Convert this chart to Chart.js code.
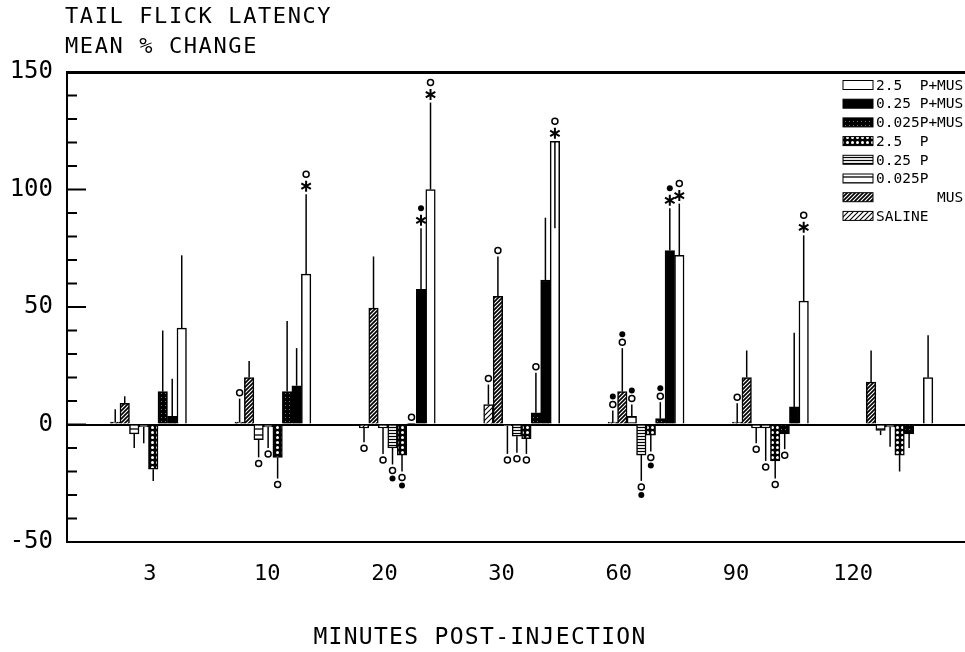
<!DOCTYPE html>
<html>
<head>
<meta charset="utf-8">
<script src="https://cdn.jsdelivr.net/npm/chart.js@4.4.0/dist/chart.umd.min.js"></script>
<style>body{margin:0;background:#fff}</style>
</head>
<body>
<canvas id="tfl" width="965" height="652"></canvas>
<script>
// tail flick latency - mean % change per treatment
var categories = ['3', '10', '20', '30', '60', '90', '120'];
var yLabelStep = 50;

// series, in the order the bars stand inside each group
var saline   = [1, 1, -1.5, 8.5, 1, 1, 0];
var mus      = [9, 20, 49.5, 54.5, 14, 20, 18];
var p0025    = [-4, -6.5, -1.5, -0.5, 3.5, -1.5, -2.5];
var p025     = [-1, -1, -10, -5, -13, -1.5, -1];
var p25      = [-19, -14, -13, -6, -4.5, -15.5, -13];
var p0025mus = [14, 14, 0.5, 5, 2.5, -4, -4];
var p025mus  = [3.5, 16.5, 57.5, 61.5, 74, 7.5, 0];
var p25mus   = [41, 64, 100, 120.5, 72, 52.5, 20];

// error bars (signed length from bar end)
var salineErr   = [5.5, 10, -6, 8.5, 5, 8, 0];
var musErr      = [3, 7, 22, 17, 18.5, 11.5, 13.5];
var p0025Err    = [-6, -7.5, -11, -12, 5, -6.5, -2];
var p025Err     = [-7, -9, -7, -7, -11, -14, -8.5];
var p25Err      = [-5, -9, -7, -6.5, -7, -7.5, -7];
var p0025musErr = [26, 30, 0, 17, 7, -6.5, -6];
var p025musErr  = [16, 16, 26, 26.5, 18, 31.5, 0];
var p25musErr   = [31, 34, 37, -37, 22, 28, 18];

// significance marks: o = open circle, f = filled circle, * = asterisk
var salineSig   = ['', 'o', 'o', 'o', 'of', 'o', ''];
var musSig      = ['', '', '', 'o', 'of', '', ''];
var p0025Sig    = ['', 'o', 'o', 'o', 'of', 'o', ''];
var p025Sig     = ['', 'o', 'of', 'o', 'of', 'o', ''];
var p25Sig      = ['', 'o', 'of', 'o', 'of', 'o', ''];
var p0025musSig = ['', '', 'o', 'o', 'of', 'o', ''];
var p025musSig  = ['', '', '*f', '', '*f', '', ''];
var p25musSig   = ['', '*o', '*o', '*o', '*o', '*o', ''];

var canvas = document.getElementById('tfl');
var ctx = canvas.getContext('2d');

function makePattern(w, h, bg, draw) {
    var c = document.createElement('canvas');
    c.width = w; c.height = h;
    var g = c.getContext('2d');
    g.fillStyle = bg;
    g.fillRect(0, 0, w, h);
    draw(g, w, h);
    return ctx.createPattern(c, 'repeat');
}
function diagonal(s, lw) {
    return makePattern(s, s, '#fff', function (g) {
        g.strokeStyle = '#000';
        g.lineWidth = lw;
        g.beginPath();
        g.moveTo(-1, s + 1); g.lineTo(s + 1, -1);
        g.moveTo(-1, 1); g.lineTo(1, -1);
        g.moveTo(s - 1, s + 1); g.lineTo(s + 1, s - 1);
        g.stroke();
    });
}
function horizontal(h, lw) {
    return makePattern(4, h, '#fff', function (g) {
        g.fillStyle = '#000';
        g.fillRect(0, h / 2 - lw / 2, 4, lw);
    });
}

var fillSaline = diagonal(5, 1.1);
var fillMus = diagonal(4, 1.7);
var fillP0025 = horizontal(6, 1.3);
var fillP025 = horizontal(3, 1.2);
var fillP25 = makePattern(5, 5, '#000', function (g) {
    g.fillStyle = '#fff';
    g.beginPath(); g.arc(2.5, 2.5, 1.5, 0, Math.PI * 2); g.fill();
});
var fillP0025mus = makePattern(4, 4, '#000', function (g) {
    g.fillStyle = '#777';
    g.fillRect(1, 1, 1, 1);
});

function points(arr) {
    return arr.map(function (v, i) { return { x: i, y: v }; });
}

var series = [
    { label: 'SALINE',      data: saline,   err: salineErr,   sig: salineSig,   fill: fillSaline },
    { label: '       MUS',  data: mus,      err: musErr,      sig: musSig,      fill: fillMus },
    { label: '0.025P',      data: p0025,    err: p0025Err,    sig: p0025Sig,    fill: fillP0025 },
    { label: '0.25 P',      data: p025,     err: p025Err,     sig: p025Sig,     fill: fillP025 },
    { label: '2.5  P',      data: p25,      err: p25Err,      sig: p25Sig,      fill: fillP25 },
    { label: '0.025P+MUS',  data: p0025mus, err: p0025musErr, sig: p0025musSig, fill: fillP0025mus },
    { label: '0.25 P+MUS',  data: p025mus,  err: p025musErr,  sig: p025musSig,  fill: '#000' },
    { label: '2.5  P+MUS',  data: p25mus,   err: p25musErr,   sig: p25musSig,   fill: '#fff' }
];

var datasets = series.map(function (s) {
    return {
        label: s.label,
        data: points(s.data),
        errors: s.err,
        marks: s.sig,
        backgroundColor: s.fill,
        borderColor: '#000',
        borderWidth: 1.5,
        barThickness: 9.5
    };
});

var mono = '"DejaVu Sans Mono", monospace';

// error bars + significance marks
var barExtras = {
    id: 'barExtras',
    afterDatasetsDraw: function (chart) {
        var c = chart.ctx, ys = chart.scales.y;
        c.save();
        c.strokeStyle = '#000';
        c.fillStyle = '#000';
        chart.data.datasets.forEach(function (ds, di) {
            chart.getDatasetMeta(di).data.forEach(function (bar, i) {
                var v = ds.data[i].y, e = ds.errors[i];
                var x = bar.x;
                var y0 = ys.getPixelForValue(v), y1 = ys.getPixelForValue(v + e);
                if (e) {
                    c.lineWidth = 1.5;
                    c.beginPath(); c.moveTo(x, y0); c.lineTo(x, y1); c.stroke();
                }
                var marks = ds.marks[i];
                if (!marks) return;
                var up = v >= 0;
                var pos = up ? Math.min(y0, y1) : Math.max(y0, y1);
                var dir = up ? -1 : 1;
                var prev = null;
                marks.split('').forEach(function (m) {
                    var step = prev === null ? (m === '*' ? 8 : 6) : ((m === '*' || prev === '*') ? 12 : 8);
                    pos += dir * step;
                    if (m === '*') {
                        c.lineWidth = 2;
                        c.beginPath();
                        for (var k = 0; k < 3; k++) {
                            var a = Math.PI / 2 + k * Math.PI / 3;
                            c.moveTo(x + Math.cos(a) * 5.5, pos + Math.sin(a) * 5.5);
                            c.lineTo(x - Math.cos(a) * 5.5, pos - Math.sin(a) * 5.5);
                        }
                        c.stroke();
                    } else {
                        c.lineWidth = 1.5;
                        c.beginPath();
                        c.arc(x, pos, 3, 0, Math.PI * 2);
                        if (m === 'f') c.fill(); else c.stroke();
                    }
                    prev = m;
                });
            });
        });
        c.restore();
    }
};

// inner tick marks, titles and the boxed legend
var decor = {
    id: 'decor',
    afterDraw: function (chart) {
        var c = chart.ctx, ys = chart.scales.y, area = chart.chartArea;
        c.save();
        c.strokeStyle = '#000';
        c.lineWidth = 2;
        ys.ticks.forEach(function (t) {
            var py = ys.getPixelForValue(t.value);
            var len = t.value % yLabelStep === 0 ? 19 : 10;
            c.beginPath(); c.moveTo(area.left, py); c.lineTo(area.left + len, py); c.stroke();
        });

        c.fillStyle = '#000';
        c.textAlign = 'left';
        c.textBaseline = 'alphabetic';
        c.font = '22px ' + mono;
        c.letterSpacing = '1.6px';
        c.fillText('TAIL FLICK LATENCY', 65, 23);
        c.fillText('MEAN % CHANGE', 65, 53);
        c.font = '23px ' + mono;
        c.letterSpacing = '1.3px';
        c.textAlign = 'center';
        c.fillText('MINUTES POST-INJECTION', 480, 644);
        c.letterSpacing = '0px';

        c.textAlign = 'left';
        c.textBaseline = 'middle';
        c.font = '14.5px ' + mono;
        c.lineWidth = 1;
        var items = chart.data.datasets.slice().reverse();
        items.forEach(function (ds, k) {
            var yc = 85 + k * 18.7;
            c.fillStyle = ds.backgroundColor;
            c.fillRect(843, yc - 4.5, 30, 9);
            c.strokeRect(843, yc - 4.5, 30, 9);
            c.fillStyle = '#000';
            c.fillText(ds.label, 876, yc + 1);
        });
        c.restore();
    }
};

var chart = new Chart(ctx, {
    type: 'bar',
    data: { datasets: datasets },
    plugins: [barExtras, decor],
    options: {
        responsive: false,
        animation: false,
        devicePixelRatio: 1,
        layout: { padding: { top: 72, right: 0, left: 0, bottom: 0 } },
        plugins: {
            legend: { display: false },
            tooltip: { enabled: false }
        },
        scales: {
            x: {
                type: 'linear',
                display: false,
                offset: false,
                min: -0.655,
                max: 6.564,
                ticks: { stepSize: 1 }
            },
            x2: {
                type: 'linear',
                position: 'bottom',
                offset: false,
                min: -0.708,
                max: 6.954,
                afterFit: function (s) { s.height = 110; },
                grid: { display: false, drawTicks: false, offset: false },
                border: { display: false },
                ticks: {
                    stepSize: 1,
                    autoSkip: false,
                    includeBounds: false,
                    maxRotation: 0,
                    padding: 19,
                    color: '#000',
                    font: { family: mono, size: 22 },
                    callback: function (v) {
                        return Number.isInteger(v) && categories[v] !== undefined ? categories[v] : '';
                    }
                }
            },
            y: {
                min: -50,
                max: 150,
                afterFit: function (s) { s.width = 67; },
                border: { display: true, color: '#000', width: 2 },
                grid: {
                    drawTicks: false,
                    color: function (c) {
                        var v = c.tick.value;
                        return (v === 0 || v === 150 || v === -50) ? '#000' : 'rgba(0,0,0,0)';
                    },
                    lineWidth: function (c) { return c.tick.value === 150 ? 3 : 2; }
                },
                ticks: {
                    stepSize: 10,
                    maxTicksLimit: 30,
                    autoSkip: false,
                    padding: 14,
                    color: '#000',
                    font: { family: mono, size: 24 },
                    callback: function (v) { return v % yLabelStep === 0 ? v : ''; }
                }
            }
        }
    }
});
</script>
</body>
</html>
